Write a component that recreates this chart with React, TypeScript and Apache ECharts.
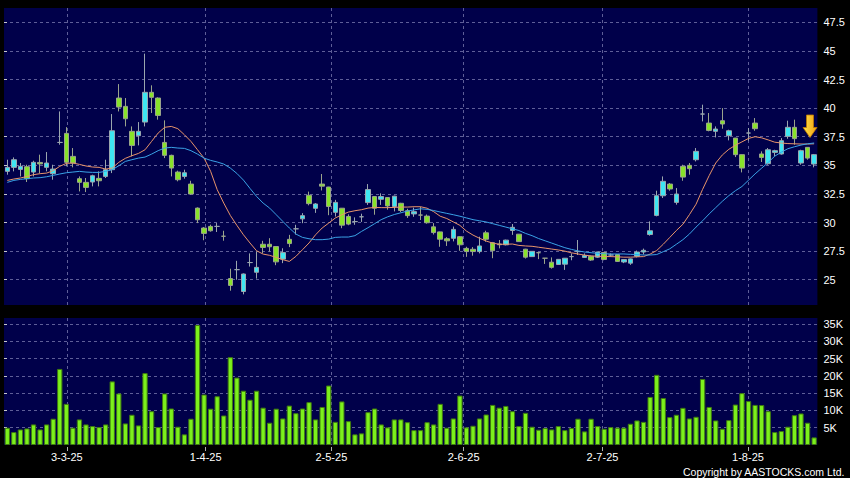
import React, { useEffect, useRef } from "react";
import * as echarts from "echarts";

// Trading days (d-m-yy)
const dates: string[] = [
  "18-2-25","19-2-25","20-2-25","21-2-25","24-2-25","25-2-25","26-2-25","27-2-25","28-2-25",
  "3-3-25","4-3-25","5-3-25","6-3-25","7-3-25","10-3-25","11-3-25","12-3-25","13-3-25","14-3-25","17-3-25","18-3-25","19-3-25","20-3-25","21-3-25","24-3-25","25-3-25","26-3-25","27-3-25","28-3-25","31-3-25",
  "1-4-25","2-4-25","3-4-25","7-4-25","8-4-25","9-4-25","10-4-25","11-4-25","14-4-25","15-4-25","16-4-25","17-4-25","22-4-25","23-4-25","24-4-25","25-4-25","28-4-25","29-4-25","30-4-25",
  "2-5-25","6-5-25","7-5-25","8-5-25","9-5-25","12-5-25","13-5-25","14-5-25","15-5-25","16-5-25","19-5-25","20-5-25","21-5-25","22-5-25","23-5-25","26-5-25","27-5-25","28-5-25","29-5-25","30-5-25",
  "2-6-25","3-6-25","4-6-25","5-6-25","6-6-25","9-6-25","10-6-25","11-6-25","12-6-25","13-6-25","16-6-25","17-6-25","18-6-25","19-6-25","20-6-25","23-6-25","24-6-25","25-6-25","26-6-25","27-6-25","30-6-25",
  "2-7-25","3-7-25","4-7-25","7-7-25","8-7-25","9-7-25","10-7-25","11-7-25","14-7-25","15-7-25","16-7-25","17-7-25","18-7-25","21-7-25","22-7-25","23-7-25","24-7-25","25-7-25","28-7-25","29-7-25","30-7-25","31-7-25",
  "1-8-25","4-8-25","5-8-25","6-8-25","7-8-25","8-8-25","11-8-25","12-8-25","13-8-25","14-8-25","15-8-25","18-8-25",
];

// [open, close, low, high]
const candles: number[][] = [
  [34.47,34.82,34.18,35.49],[34.82,35.49,34.47,35.69],[34.64,34.91,34.03,35.2],[34.88,33.83,33.54,35.05],[34.41,35.26,34.03,35.4],
  [35.25,35.12,34.32,35.93],[34.82,35.2,34.47,36.16],[34.27,34.67,33.74,35.05],[37.0,37.0,36.8,39.71],[37.79,35.26,34.91,38.34],
  [35.78,35.2,34.82,36.51],[33.83,33.51,32.72,34.03],[33.51,33.07,32.66,33.89],[33.54,34.09,33.16,34.18],[33.86,33.65,33.16,34.47],
  [34.03,34.62,33.89,35.49],[34.62,38.02,34.32,39.48],[40.88,40.09,39.71,42.1],[40.15,39.07,38.4,40.88],[37.97,36.74,35.78,38.4],
  [37.59,37.97,36.74,38.78],[38.78,41.38,38.4,44.76],[41.38,40.94,39.57,41.99],[40.88,39.36,38.99,40.94],[37.0,35.87,35.63,38.93],
  [35.87,34.76,34.03,35.93],[34.41,33.74,33.6,34.53],[34.03,34.35,33.83,34.62],[33.36,32.49,32.43,33.65],[31.26,30.24,29.95,31.32],
  [29.52,29.05,28.45,29.6],[29.66,29.28,29.2,29.81],[29.66,29.66,29.17,29.95],[28.8,28.8,28.41,29.28],[25.1,24.5,24.04,25.96],
  [25.88,25.88,25.0,26.65],[23.97,25.5,23.72,25.55],[26.5,26.5,26.15,27.3],[25.65,26.08,25.1,27.46],[28.1,27.82,27.32,28.4],
  [28.1,27.88,27.46,28.63],[27.9,26.56,26.27,27.92],[26.8,27.37,26.45,27.75],[28.53,28.16,27.85,28.92],[29.45,29.45,28.95,29.8],
  [30.32,30.6,29.94,30.82],[32.38,31.65,31.5,32.7],[31.24,31.62,30.84,31.7],[33.36,33.18,32.8,34.24],[33.1,31.4,30.64,33.12],
  [30.89,31.76,30.52,31.98],[31.25,29.77,29.5,31.27],[30.53,29.86,29.76,30.72],[30.08,30.08,29.8,30.45],[30.5,30.5,30.05,30.77],
  [31.74,32.88,31.54,33.36],[32.27,31.25,30.68,32.3],[32.03,32.27,31.54,32.55],[32.18,31.45,31.12,32.22],[31.4,32.3,30.97,32.34],
  [31.68,31.05,30.92,31.72],[31.03,30.6,30.4,31.2],[30.75,30.95,30.5,31.3],[30.65,30.65,30.22,31.38],[30.56,29.98,29.9,30.7],
  [29.62,29.12,28.95,29.95],[29.18,28.54,27.88,29.2],[28.58,28.4,27.95,28.72],[28.62,29.4,28.35,29.65],[28.76,28.05,27.53,28.8],
  [27.74,27.46,27.0,27.88],[27.66,27.46,27.1,27.85],[27.46,27.95,27.3,28.76],[29.1,28.54,28.32,29.28],[28.24,27.54,26.88,28.3],
  [28.12,28.06,27.74,28.47],[28.05,28.46,28.0,28.5],[29.3,29.58,28.92,29.87],[28.98,28.33,28.3,29.0],[27.67,26.97,26.85,27.7],
  [27.02,27.48,27.0,27.5],[27.36,27.36,26.8,27.4],[26.88,26.88,26.38,26.9],[26.53,26.08,25.97,26.95],[26.33,26.78,26.3,26.8],
  [26.36,26.88,25.86,26.9],[27.02,27.02,26.7,27.3],[27.46,27.46,27.16,28.47],[26.95,27.12,26.9,27.3],[27.05,26.72,26.65,27.1],
  [26.97,27.42,26.9,27.45],[27.38,26.77,26.7,27.4],[27.16,27.16,27.0,27.3],[27.2,26.6,26.55,27.25],[26.55,26.76,26.45,26.8],
  [26.45,26.82,26.3,26.85],[27.05,27.42,26.95,27.55],[27.42,27.57,27.2,27.72],[28.95,29.28,28.85,30.1],[30.62,32.34,30.54,32.78],
  [32.34,33.6,32.14,34.03],[33.36,32.93,32.78,33.45],[31.76,32.49,31.56,33.01],[34.91,33.97,33.65,35.05],[35.0,34.7,34.18,35.2],
  [35.49,36.22,35.34,36.51],[39.48,39.48,38.84,40.3],[38.69,38.05,37.97,39.57],[37.97,38.17,37.44,38.4],[38.9,38.61,38.2,40.0],
  [37.59,38.02,37.18,38.11],[37.38,35.93,35.72,37.4],[35.93,34.76,34.38,35.95],[37.82,37.82,37.15,38.26],[38.69,38.2,38.02,39.13],
  [35.99,35.69,35.29,36.22],[35.14,36.36,35.05,36.51],[36.13,36.28,35.78,36.36],[35.99,37.15,35.93,37.38],[37.53,38.32,37.32,38.9],
  [38.32,37.33,36.8,38.99],[35.2,36.28,35.05,36.36],[36.57,35.63,35.49,36.6],[35.11,35.93,34.82,35.99],
];

// Short moving average (orange)
const maShort: number[] = [
  33.68,33.8,33.89,34.03,34.18,34.27,34.32,34.53,34.91,35.17,35.2,35.08,34.94,34.85,34.82,34.67,34.76,35.26,35.61,35.84,
  36.04,36.36,37.09,37.82,38.32,38.4,38.2,37.67,37.09,36.36,35.63,34.47,32.87,31.7,30.62,29.75,28.93,28.21,27.53,27.24,
  27.13,26.95,26.75,26.6,27.04,27.62,28.21,28.93,29.52,29.95,30.39,30.68,30.91,31.03,31.12,31.26,31.32,31.3,31.3,31.32,
  31.35,31.35,31.38,31.38,31.25,30.95,30.55,30.35,30.05,29.75,29.25,28.9,28.62,28.38,28.2,28.1,28.1,28.12,28.0,27.95,
  27.92,27.84,27.76,27.68,27.6,27.5,27.35,27.25,27.15,27.08,27.05,27.03,27.02,27.0,26.97,26.97,27.0,27.02,27.24,27.55,
  28.1,28.7,29.3,29.85,30.7,31.6,32.9,34.1,35.2,35.9,36.4,36.75,37.05,37.35,37.5,37.4,37.22,37.02,36.95,36.9,
  36.88,36.86,36.86,36.88,
];

// Long moving average (blue)
const maLong: number[] = [
  33.51,33.68,33.77,33.83,33.89,33.92,34.0,34.12,34.24,34.35,34.41,34.47,34.41,34.38,34.38,34.47,34.62,34.96,35.34,35.49,
  35.63,35.72,35.98,36.28,36.51,36.57,36.51,36.48,36.28,35.98,35.63,35.43,35.29,35.11,34.76,34.29,33.71,32.98,32.28,31.7,
  31.26,30.68,30.1,29.52,28.99,28.7,28.58,28.5,28.5,28.55,28.7,28.73,28.73,28.85,29.22,29.55,29.9,30.25,30.5,30.7,
  30.85,31.0,31.1,31.2,31.15,31.05,30.92,30.8,30.68,30.55,30.4,30.25,30.15,30.05,29.9,29.75,29.6,29.45,29.3,29.05,
  28.85,28.6,28.4,28.2,28.0,27.8,27.65,27.52,27.42,27.36,27.3,27.27,27.25,27.25,27.25,27.22,27.2,27.16,27.16,27.2,
  27.45,27.7,28.1,28.5,29.0,29.6,30.15,30.75,31.3,31.85,32.35,32.78,33.15,33.7,34.25,34.75,35.25,35.8,36.15,36.45,
  36.62,36.77,36.88,36.95,
];

// Volume in thousands
const volumes: number[] = [
  5.0,3.74,4.5,4.8,5.95,4.5,5.95,7.6,22.0,11.9,5.0,7.4,5.95,5.47,5.18,5.95,18.4,14.9,6.24,8.75,
  5.67,20.8,9.78,5.18,14.9,10.56,5.29,3.08,7.6,34.7,14.6,10.5,14.1,8.54,25.4,19.5,15.7,13.1,15.7,10.8,
  6.44,10.5,7.68,11.4,9.2,10.56,12.4,7.4,11.0,17.2,6.7,12.6,6.9,3.08,3.37,9.5,10.56,5.95,5.09,7.4,
  7.4,6.6,4.3,4.3,6.6,5.95,11.9,5.0,7.68,14.3,5.09,5.57,7.68,8.83,11.6,10.8,11.3,9.78,5.47,9.3,
  5.29,4.42,4.9,4.5,5.47,4.3,4.9,7.6,3.94,7.6,5.47,4.7,5.18,5.0,5.0,6.15,7.1,6.7,13.9,20.3,
  13.6,8.06,8.75,10.75,7.68,8.17,19.1,11.0,7.1,4.7,7.2,11.7,15.0,12.7,11.6,11.55,9.78,3.74,4.03,5.29,
  8.63,9.12,6.44,2.2,
];

const priceTicks: number[] = [25, 27.5, 30, 32.5, 35, 37.5, 40, 42.5, 45, 47.5];
const volumeTicks: number[] = [5, 10, 15, 20, 25, 30, 35];
const dateLabels: string[] = ["3-3-25", "1-4-25", "2-5-25", "2-6-25", "2-7-25", "1-8-25"];

const FONT = "'Liberation Sans', Arial, sans-serif";
const GRID_LINE = { color: "#5e5e98", type: [3, 3] as number[], width: 1 };
const PLOT_BG = "#00004a";

export default function App() {
  const ref = useRef<HTMLDivElement>(null);

  useEffect(() => {
    if (!ref.current) return;
    const chart = echarts.init(ref.current, undefined, { renderer: "svg" });
    const slots = dateLabels.map((d) => dates.indexOf(d) + 0.5);
    const slotMax = dates.length - 1;

    chart.setOption({
      animation: false,
      backgroundColor: "#000000",
      textStyle: { fontFamily: FONT },
      grid: [
        { left: 4, right: 32.6, top: 8, height: 297, show: true, backgroundColor: PLOT_BG, borderWidth: 0 },
        { left: 4, right: 32.6, top: 318, height: 127, show: true, backgroundColor: PLOT_BG, borderWidth: 0 },
      ],
      xAxis: [
        { type: "category", gridIndex: 0, data: dates, show: false, boundaryGap: true },
        { type: "category", gridIndex: 1, data: dates, show: false, boundaryGap: true },
        {
          type: "value", gridIndex: 0, min: 0, max: slotMax, position: "bottom",
          axisLine: { show: false },
          axisTick: { show: false, customValues: slots },
          axisLabel: { show: false, customValues: slots },
          splitLine: { show: true, lineStyle: GRID_LINE },
        },
        {
          type: "value", gridIndex: 1, min: 0, max: slotMax, position: "bottom", offset: 2,
          axisLine: { show: false },
          axisTick: { show: true, customValues: slots, length: 4, lineStyle: { color: "#b0b0b0" } },
          axisLabel: {
            customValues: slots, color: "#ffffff", fontSize: 11, fontFamily: FONT, margin: 4,
            formatter: (v: number) => dates[Math.round(v - 0.5)],
          },
          splitLine: { show: true, lineStyle: GRID_LINE },
        },
      ],
      yAxis: [
        {
          type: "value", gridIndex: 0, position: "right", min: 22.79, max: 48.75, offset: 4,
          axisLine: { show: false },
          axisTick: { show: true, customValues: priceTicks, length: 3, lineStyle: { color: "#c8c8c8" } },
          axisLabel: {
            customValues: priceTicks, color: "#ffffff", fontSize: 11, fontFamily: FONT, margin: 2,
            formatter: (v: number) => String(v),
          },
          splitLine: { show: true, lineStyle: GRID_LINE },
        },
        {
          type: "value", gridIndex: 1, position: "right", min: 0, max: 36.73, offset: 4,
          axisLine: { show: false },
          axisTick: { show: true, customValues: volumeTicks, length: 3, lineStyle: { color: "#c8c8c8" } },
          axisLabel: {
            customValues: volumeTicks, color: "#ffffff", fontSize: 11, fontFamily: FONT, margin: 2,
            formatter: (v: number) => v + "K",
          },
          splitLine: { show: true, lineStyle: GRID_LINE },
        },
      ],
      series: [
        {
          type: "candlestick", xAxisIndex: 0, yAxisIndex: 0, data: candles, barWidth: 5,
          itemStyle: {
            color: "#3ee6f2", color0: "#88e22a",
            borderColor: "#9aa6ae", borderColor0: "#9aa48c", borderWidth: 1,
          },
          z: 2,
        },
        {
          type: "line", xAxisIndex: 0, yAxisIndex: 0, data: maShort, symbol: "none",
          lineStyle: { color: "#e8946a", width: 1 }, z: 3,
        },
        {
          type: "line", xAxisIndex: 0, yAxisIndex: 0, data: maLong, symbol: "none",
          lineStyle: { color: "#3aa2e6", width: 1 }, z: 3,
        },
        {
          type: "bar", xAxisIndex: 1, yAxisIndex: 1, data: volumes, barWidth: 5.3,
          itemStyle: { color: "#7cf01c", borderColor: "#3f7a10", borderWidth: 1 },
        },
      ],
      graphic: [
        {
          type: "polygon",
          shape: { points: [[806.5, 115], [813.5, 115], [813.5, 127.5], [817, 127.5], [810, 137.5], [803, 127.5], [806.5, 127.5]] },
          style: {
            fill: new echarts.graphic.LinearGradient(0, 0, 1, 0, [
              { offset: 0, color: "#ffe24a" },
              { offset: 1, color: "#f0a010" },
            ]),
            stroke: "#c07a00", lineWidth: 0.8,
          },
          z: 10,
        },
        {
          type: "text", right: 5, top: 466,
          style: { text: "Copyright by AASTOCKS.com Ltd.", fill: "#ffffff", font: `10.5px ${FONT}` },
        },
      ],
    });
    return () => chart.dispose();
  }, []);

  return (
    <div
      ref={ref}
      style={{ position: "fixed", left: 0, top: 0, width: 850, height: 478, background: "#000" }}
    />
  );
}
